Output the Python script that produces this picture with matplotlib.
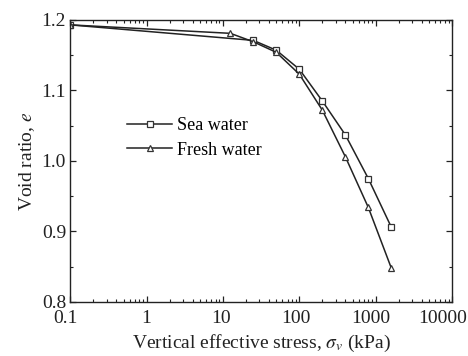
import matplotlib
matplotlib.use('Agg')
import matplotlib.pyplot as plt
import matplotlib.transforms as mtransforms
from matplotlib.ticker import LogLocator, FixedLocator, MultipleLocator, FuncFormatter

plt.rcParams['font.family'] = ['Liberation Serif', 'DejaVu Serif']
plt.rcParams['mathtext.fontset'] = 'stix'

# consolidation data: vertical effective stress (kPa) vs void ratio
sea_stress = [0.1, 25, 50, 100, 200, 400, 800, 1600]
sea_void = [1.193, 1.171, 1.157, 1.130, 1.085, 1.037, 0.975, 0.906]

fresh_stress = [0.1, 12.5, 25, 50, 100, 200, 400, 800, 1600]
fresh_void = [1.193, 1.181, 1.169, 1.154, 1.123, 1.072, 1.006, 0.934, 0.848]

x_ticks = [0.1, 1, 10, 100, 1000, 10000]

fig = plt.figure(figsize=(4.68, 3.56), dpi=100)
ax = fig.add_axes([0.150, 0.152, 0.816, 0.792])

line_kw = dict(color='#222222', linewidth=1.1, markerfacecolor='white',
               markeredgecolor='#333333', markeredgewidth=0.9)
ax.plot(sea_stress, sea_void, marker='s', markersize=4.5, label='Sea water', **line_kw)
ax.plot(fresh_stress, fresh_void, marker='^', markersize=5, label='Fresh water', **line_kw)

ax.set_xscale('log')
ax.set_xlim(0.1, 10000)
ax.set_ylim(0.8, 1.2)

ax.xaxis.set_major_locator(FixedLocator(x_ticks))
ax.xaxis.set_major_formatter(FuncFormatter(lambda v, p: f'{v:g}'))
ax.xaxis.set_minor_locator(LogLocator(base=10, subs=range(2, 10), numticks=20))
ax.yaxis.set_major_locator(MultipleLocator(0.1))
ax.yaxis.set_minor_locator(MultipleLocator(0.05))
ax.yaxis.set_major_formatter(FuncFormatter(lambda v, p: f'{v:.1f}'))

ax.tick_params(which='both', direction='in', top=True, right=True,
               labelsize=14, colors='#222222')
ax.tick_params(axis='x', pad=6)
ax.tick_params(axis='y', pad=3)
ax.tick_params(which='major', length=4, width=0.9)
ax.tick_params(which='minor', length=2.5, width=0.8)
for s in ax.spines.values():
    s.set_linewidth(1.0)
    s.set_color('#222222')

# nudge the x tick labels a little to the left so the end ones stay inside
shifts = [-5, 0, -2, -3, -5, -9]
fig.canvas.draw()
for lab, dx in zip(ax.get_xticklabels(), shifts):
    lab.set_transform(lab.get_transform() +
                      mtransforms.ScaledTranslation(dx / 100, 0, fig.dpi_scale_trans))

ax.set_xlabel(r'Vertical effective stress, $\sigma_v$ (kPa)', fontsize=14,
              labelpad=4, color='#222222')
ax.set_ylabel(r'Void ratio, $e$', fontsize=14, labelpad=3, color='#222222')

ax.legend(loc='center left', bbox_to_anchor=(0.149, 0.582), frameon=False,
          fontsize=13, handlelength=2.5, handletextpad=0.28, labelspacing=0.42,
          borderpad=0, borderaxespad=0)

fig.savefig('out.png', dpi=100)
